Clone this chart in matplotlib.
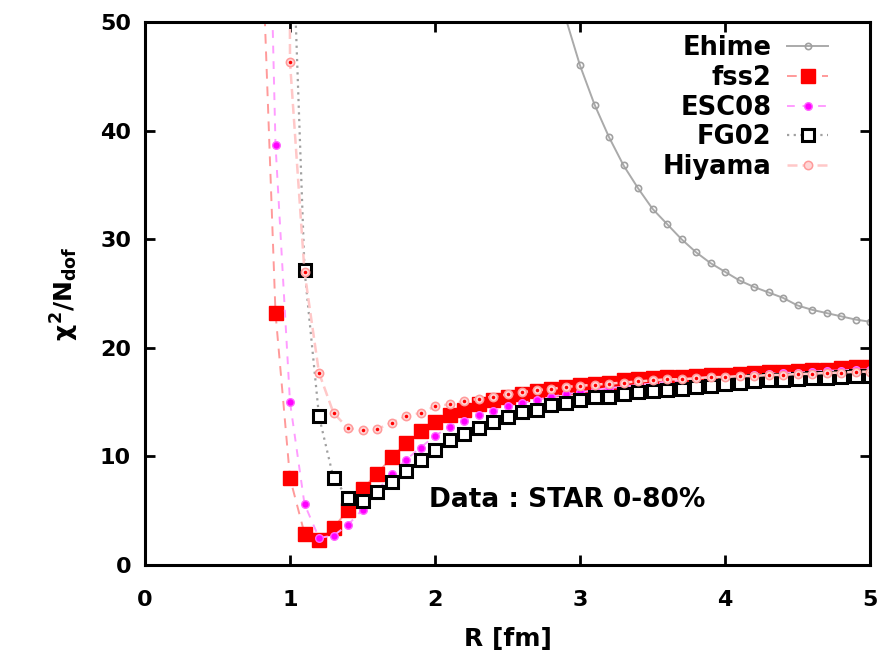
import numpy as np
import matplotlib
matplotlib.use('Agg')
import matplotlib.pyplot as plt

plt.rcParams['font.family'] = ['DejaVu Sans']
plt.rcParams['font.weight'] = 'bold'
plt.rcParams['mathtext.fontset'] = 'custom'
plt.rcParams['mathtext.rm'] = 'DejaVu Sans:bold'
plt.rcParams['mathtext.it'] = 'DejaVu Sans:bold'
plt.rcParams['mathtext.bf'] = 'DejaVu Sans:bold'

# Ehime (R = 2.7 ... 5.0)
r_ehime = np.round(np.arange(2.7, 5.01, 0.1), 1)
chi_ehime = [61.5, 55.5, 50.4, 46.0, 42.4, 39.4, 36.8, 34.7, 32.8, 31.4, 30.0,
             28.8, 27.8, 27.0, 26.2, 25.6, 25.1, 24.6, 23.9, 23.5, 23.2, 22.9,
             22.6, 22.4]

# fss2 (R = 0.8 ... 5.0)
r_fss2 = np.round(np.arange(0.8, 5.01, 0.1), 1)
chi_fss2 = [60.0, 23.2, 8.0, 2.9, 2.3, 3.4, 5.1, 7.0, 8.4, 9.9, 11.2, 12.3,
            13.2, 13.8, 14.3, 14.8, 15.2, 15.5, 15.7, 16.0, 16.2, 16.4, 16.6,
            16.7, 16.8, 17.0, 17.1, 17.2, 17.3, 17.3, 17.4, 17.5, 17.5, 17.6,
            17.7, 17.8, 17.8, 17.9, 18.0, 18.0, 18.1, 18.2, 18.2]

# ESC08 (R = 0.8 ... 5.0)
r_esc08 = np.round(np.arange(0.8, 5.01, 0.1), 1)
chi_esc08 = [95.0, 38.7, 15.0, 5.6, 2.5, 2.7, 3.7, 5.1, 6.8, 8.4, 9.7, 10.8,
             11.9, 12.7, 13.3, 13.8, 14.2, 14.6, 14.9, 15.2, 15.5, 15.7, 15.9,
             16.1, 16.3, 16.4, 16.6, 16.7, 16.9, 17.0, 17.1, 17.2, 17.3, 17.4,
             17.5, 17.6, 17.7, 17.7, 17.8, 17.9, 17.9, 18.0, 18.0]

# FG02 (R = 1.0 ... 5.0)
r_fg02 = np.round(np.arange(1.0, 5.01, 0.1), 1)
chi_fg02 = [65.0, 27.2, 13.7, 8.0, 6.2, 5.9, 6.7, 7.6, 8.7, 9.7, 10.6, 11.5,
            12.1, 12.6, 13.2, 13.6, 14.1, 14.3, 14.7, 14.9, 15.2, 15.5, 15.5,
            15.7, 15.9, 16.0, 16.1, 16.2, 16.4, 16.5, 16.7, 16.8, 16.9, 17.0,
            17.0, 17.1, 17.2, 17.2, 17.3, 17.4, 17.4]

# Hiyama (R = 0.9 ... 5.0)
r_hiyama = np.round(np.arange(0.9, 5.01, 0.1), 1)
chi_hiyama = [600.0, 46.3, 27.0, 17.7, 14.0, 12.6, 12.4, 12.5, 13.1, 13.7,
              14.0, 14.6, 14.8, 15.1, 15.3, 15.5, 15.7, 15.9, 16.1, 16.2, 16.4,
              16.5, 16.6, 16.7, 16.8, 16.9, 17.0, 17.1, 17.1, 17.2, 17.3, 17.3,
              17.4, 17.4, 17.5, 17.5, 17.6, 17.6, 17.7, 17.7, 17.8, 17.8]

fig = plt.figure(figsize=(8.8, 6.63), dpi=100)
ax = fig.add_axes([145 / 880, 1 - 565 / 663, 725 / 880, 543 / 663])

ax.plot(r_ehime, chi_ehime, color='#aaaaaa', lw=1.4, ls='-',
        marker='o', ms=4.5, mfc='none', mec='#a0a0a0', mew=1.2, label='Ehime')
ax.plot(r_fss2, chi_fss2, color='#ff9a9a', lw=1.4, ls=(0, (5, 4)),
        marker='s', ms=9.5, mfc='#ff0000', mec='#ff0000', label='fss2')
ax.plot(r_esc08, chi_esc08, color='#ff9cff', lw=1.4, ls=(0, (4, 4)),
        marker='o', ms=5.5, mfc='#ff00ff', mec='#ff66ff', label='ESC08')
ax.plot(r_fg02, chi_fg02, color='#a0a0a0', lw=1.6, ls=(0, (1, 2)),
        marker='s', ms=8, mfc='white', mec='black', mew=2.2, label='FG02')
ax.plot(r_hiyama, chi_hiyama, color='#ffc8c8', lw=1.8, ls=(0, (4, 2)),
        marker='o', ms=6, mfc='#ffd6d6', mec='#ff9a9a', mew=1.1, label='Hiyama')
ax.plot(r_hiyama, chi_hiyama, ls='none', marker='.', ms=3, color='#ff0000')

ax.set_xlim(0, 5)
ax.set_ylim(0, 50)
ax.set_xticks([0, 1, 2, 3, 4, 5])
ax.set_yticks([0, 10, 20, 30, 40, 50])
ax.tick_params(direction='in', length=7, width=2, labelsize=16,
               top=True, right=True)
ax.tick_params(axis='x', pad=18)
ax.tick_params(axis='y', pad=10)
for s in ax.spines.values():
    s.set_linewidth(2.2)

ax.set_xlabel('R [fm]', fontsize=18, fontweight='bold', labelpad=12)
ax.set_ylabel(r'$\chi^2$/N$_{dof}$', fontsize=18, fontweight='bold', labelpad=14)

ax.text(1.96, 6.0, 'Data : STAR 0-80%', fontsize=19, fontweight='bold',
        va='center', ha='left')

ax.legend(loc='upper right', markerfirst=False, frameon=False,
          handlelength=1.6, handletextpad=0.6, labelspacing=0.15,
          borderaxespad=0.1, bbox_to_anchor=(0.96, 1.0),
          prop={'weight': 'bold', 'size': 18.5})

plt.savefig('out.png', dpi=100)
